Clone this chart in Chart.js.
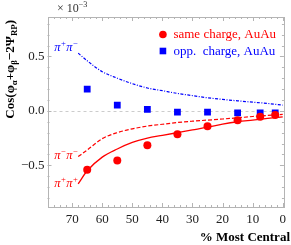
<!DOCTYPE html>
<html>
<head>
<meta charset="utf-8">
<script src="https://cdn.jsdelivr.net/npm/chart.js@4.4.0/dist/chart.umd.min.js"></script>
<style>
  html, body { margin: 0; padding: 0; background: #fff; }
</style>
</head>
<body>
<canvas id="chart" width="291" height="245"></canvas>
<script>
// measured points (x = % most central, y in units of 1e-3)
var centrality = [65, 55, 45, 35, 25, 15, 7.5, 2.5];
var sameCharge = [-0.54, -0.455, -0.316, -0.214, -0.141, -0.086, -0.055, -0.037];
var oppCharge = [0.2, 0.052, 0.013, -0.012, -0.012, -0.018, -0.018, -0.018];

// model curves
var curveX = [68, 65, 60, 55, 50, 45, 40, 35, 30, 25, 20, 15, 10, 5, 0];
var curvePlusMinus = [0.53, 0.46, 0.36, 0.30, 0.25, 0.21, 0.185, 0.16, 0.14, 0.12, 0.105, 0.092, 0.08, 0.068, 0.052];
var curveMinusMinus = [-0.42, -0.36, -0.255, -0.2, -0.165, -0.14, -0.123, -0.107, -0.095, -0.085, -0.075, -0.064, -0.052, -0.042, -0.033];
var curvePlusPlus = [-0.67, -0.55, -0.425, -0.35, -0.29, -0.25, -0.225, -0.2, -0.175, -0.15, -0.122, -0.1, -0.085, -0.07, -0.055];

var xTicks = [70, 60, 50, 40, 30, 20, 10, 0];
var yTicks = [0.5, 0, -0.5];
var legendLabels = ["same charge, AuAu", "opp.  charge, AuAu"];
var curveLabels = [
    [["π", 0], ["+", 1], ["π", 0], ["−", 1]],
    [["π", 0], ["−", 1], ["π", 0], ["−", 1]],
    [["π", 0], ["+", 1], ["π", 0], ["+", 1]]
];

var RED = "#ff0000";
var BLUE = "#0000ff";
var SERIF = "'Liberation Serif', 'DejaVu Serif', serif";
var FRAME = "#b4b4b4";

function pts(xs, ys) {
    return xs.map(function(x, i) { return { x: x, y: ys[i] }; });
}

// draws text runs; shift 1 = superscript, -1 = subscript
function runsWidth(ctx, runs, size, pre) {
    var w = 0;
    runs.forEach(function(r) {
        var s = r[1] ? size * 0.68 : size;
        ctx.font = pre + s + "px " + SERIF;
        w += ctx.measureText(r[0]).width;
    });
    return w;
}
function drawRuns(ctx, runs, x, y, size, pre) {
    runs.forEach(function(r) {
        var s = r[1] ? size * 0.68 : size;
        var dy = r[1] === 1 ? -size * 0.4 : (r[1] === -1 ? size * 0.25 : 0);
        ctx.font = pre + s + "px " + SERIF;
        ctx.fillText(r[0], x, y + dy);
        x += ctx.measureText(r[0]).width;
    });
}

var decor = {
    id: "decor",
    beforeDatasetsDraw: function(chart) {
        var ctx = chart.ctx, a = chart.chartArea;
        var xs = chart.scales.x, ys = chart.scales.y;
        ctx.save();
        // dashed zero line
        ctx.strokeStyle = "#cccccc";
        ctx.lineWidth = 1;
        ctx.setLineDash([3, 3]);
        var y0 = Math.round(ys.getPixelForValue(0)) + 0.5;
        ctx.beginPath(); ctx.moveTo(a.left, y0); ctx.lineTo(a.right, y0); ctx.stroke();
        ctx.setLineDash([]);
        // frame
        ctx.strokeStyle = FRAME;
        ctx.strokeRect(Math.round(a.left) + 0.5, Math.round(a.top) + 0.5,
            Math.round(a.right - a.left), Math.round(a.bottom - a.top));
        ctx.beginPath();
        var v, p, len;
        for (v = 0; v <= 78; v += 2) {
            len = v % 10 === 0 ? 4 : 2;
            p = Math.round(xs.getPixelForValue(v)) + 0.5;
            ctx.moveTo(p, a.bottom); ctx.lineTo(p, a.bottom - len);
            ctx.moveTo(p, a.top); ctx.lineTo(p, a.top + len);
        }
        for (var k = -8; k <= 8; k++) {
            len = k % 5 === 0 ? 4 : 2;
            p = Math.round(ys.getPixelForValue(k / 10)) + 0.5;
            ctx.moveTo(a.left, p); ctx.lineTo(a.left + len, p);
            ctx.moveTo(a.right, p); ctx.lineTo(a.right - len, p);
        }
        ctx.stroke();
        ctx.restore();
    },
    afterDraw: function(chart) {
        var ctx = chart.ctx, a = chart.chartArea;
        ctx.save();
        ctx.textBaseline = "alphabetic";

        // legend
        var lx = a.right - 121, tx = a.right - 110.5;
        var rows = [a.top + 17.5, a.top + 34];
        ctx.font = "13px " + SERIF;
        ctx.fillStyle = RED;
        ctx.beginPath(); ctx.arc(lx, rows[0], 3.8, 0, Math.PI * 2); ctx.fill();
        ctx.fillText(legendLabels[0], tx, rows[0] + 3.8);
        ctx.fillStyle = BLUE;
        ctx.fillRect(lx - 3.3, rows[1] - 3.3, 6.6, 6.6);
        ctx.fillText(legendLabels[1], tx, rows[1] + 3.8);

        // curve labels next to the start of each curve
        var meta = [chart.getDatasetMeta(2), chart.getDatasetMeta(3), chart.getDatasetMeta(4)];
        var colors = [BLUE, RED, RED];
        var dys = [-2, 2, 3];
        meta.forEach(function(m, i) {
            var start = m.data[0];
            var w = runsWidth(ctx, curveLabels[i], 12.5, "italic ");
            ctx.fillStyle = colors[i];
            drawRuns(ctx, curveLabels[i], start.x - w, start.y + dys[i], 12.5, "italic ");
        });

        // x 10^-3 factor
        ctx.fillStyle = "#333333";
        drawRuns(ctx, [["× 10", 0], ["−3", 1]], 57, 12, 12, "");

        // x axis title
        ctx.fillStyle = "#000000";
        ctx.font = "bold 13px " + SERIF;
        ctx.textAlign = "right";
        ctx.fillText("% Most Central", 290, 241);
        ctx.textAlign = "left";

        // y axis title
        var title = [["Cos(φ", 0], ["α", -1], ["+φ", 0], ["β", -1], ["−2Ψ", 0], ["RP", -1], [")", 0]];
        var tw = runsWidth(ctx, title, 13, "bold ");
        ctx.translate(14, 20 + tw);
        ctx.rotate(-Math.PI / 2);
        drawRuns(ctx, title, 0, 0, 13, "bold ");
        ctx.restore();
    }
};

new Chart(document.getElementById("chart"), {
    type: "line",
    data: {
        datasets: [
            {
                type: "scatter",
                label: legendLabels[0],
                data: pts(centrality, sameCharge),
                pointStyle: "circle",
                pointRadius: 4,
                backgroundColor: RED,
                borderColor: RED,
                borderWidth: 0,
                order: 0
            },
            {
                type: "scatter",
                label: legendLabels[1],
                data: pts(centrality, oppCharge),
                pointStyle: "rect",
                pointRadius: 4.8,
                backgroundColor: BLUE,
                borderColor: BLUE,
                borderWidth: 0,
                order: 0
            },
            {
                label: "pi+ pi-",
                data: pts(curveX, curvePlusMinus),
                borderColor: BLUE,
                borderWidth: 1.2,
                borderDash: [3, 1.5, 1, 1.5],
                pointRadius: 0,
                cubicInterpolationMode: "monotone",
                fill: false,
                order: 1
            },
            {
                label: "pi- pi-",
                data: pts(curveX, curveMinusMinus),
                borderColor: RED,
                borderWidth: 1.2,
                borderDash: [4, 2],
                pointRadius: 0,
                cubicInterpolationMode: "monotone",
                fill: false,
                order: 1
            },
            {
                label: "pi+ pi+",
                data: pts(curveX, curvePlusPlus),
                borderColor: RED,
                borderWidth: 1.3,
                pointRadius: 0,
                cubicInterpolationMode: "monotone",
                fill: false,
                order: 1
            }
        ]
    },
    options: {
        responsive: false,
        animation: false,
        layout: { padding: { top: 17, right: 3, left: 0, bottom: 0 } },
        plugins: { legend: { display: false }, tooltip: { enabled: false } },
        scales: {
            x: {
                type: "linear",
                reverse: true,
                min: -0.4,
                max: 78.2,
                grid: { display: false, drawTicks: false },
                border: { display: false },
                afterBuildTicks: function(s) { s.ticks = xTicks.map(function(v) { return { value: v }; }); },
                afterFit: function(s) { s.height = 38; },
                ticks: {
                    padding: 5,
                    maxRotation: 0,
                    autoSkip: false,
                    color: "#222222",
                    font: { family: SERIF, size: 13 },
                    callback: function(v) { return String(v); }
                }
            },
            y: {
                type: "linear",
                min: -0.883,
                max: 0.862,
                grid: { display: false, drawTicks: false },
                border: { display: false },
                afterBuildTicks: function(s) { s.ticks = yTicks.map(function(v) { return { value: v }; }); },
                afterFit: function(s) { s.width = 47.5; },
                ticks: {
                    padding: 3,
                    autoSkip: false,
                    color: "#222222",
                    font: { family: SERIF, size: 13 },
                    callback: function(v) { return v.toFixed(1).replace("-", "−"); }
                }
            }
        }
    },
    plugins: [decor]
});
</script>
</body>
</html>
